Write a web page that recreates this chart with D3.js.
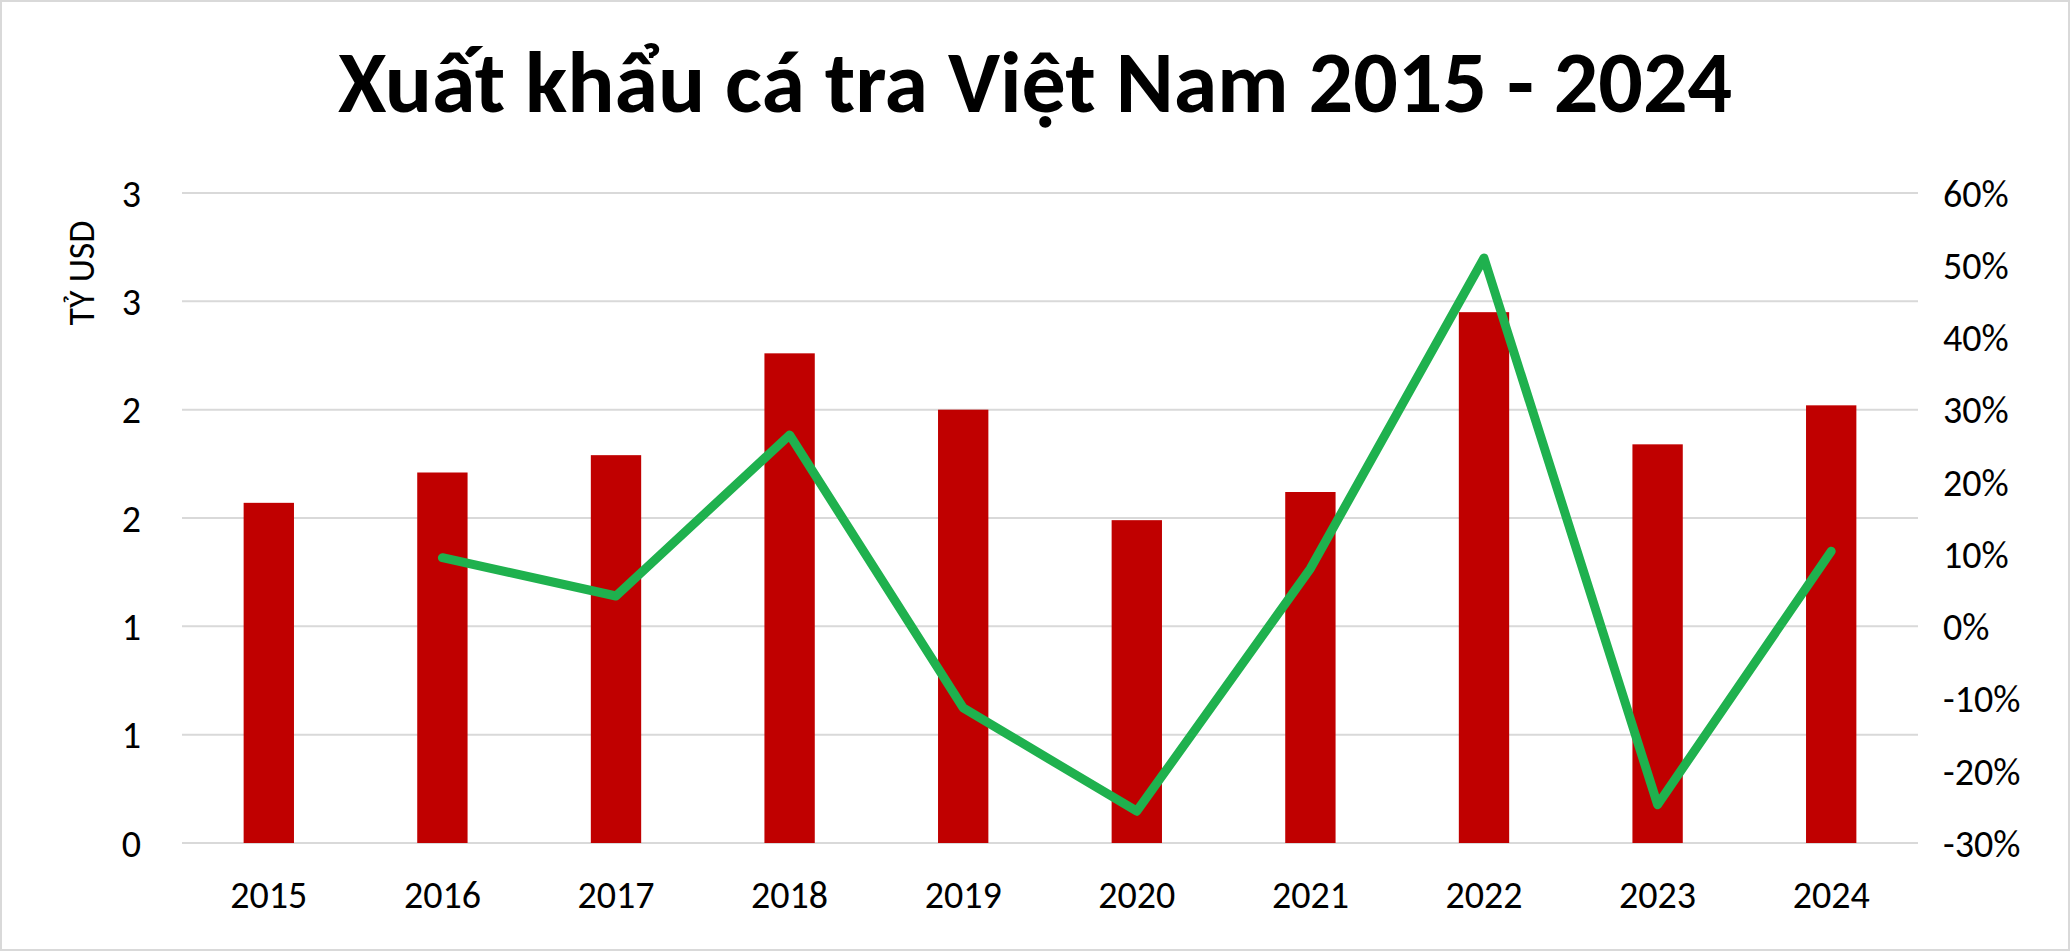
<!DOCTYPE html><html><head><meta charset="utf-8"><script src="https://cdn.jsdelivr.net/npm/d3@7"></script>
<style>body{margin:0;background:#fff}</style></head><body><svg id="c" width="2071" height="952"></svg>
<script>
const years=["2015","2016","2017","2018","2019","2020","2021","2022","2023","2024"];
const exportValue=[1.57,1.71,1.79,2.26,2.0,1.49,1.62,2.45,1.84,2.02];
const growth=[null,9.5,4.2,26.5,-11.3,-25.6,8.0,51.0,-24.7,10.4];
const leftTicks=[0,0.5,1,1.5,2,2.5,3];
const rightTicks=[-30,-20,-10,0,10,20,30,40,50,60];
const svg=d3.select("#c");
const font="Calibri, Carlito, 'Open Sans', sans-serif";
svg.append("rect").attr("x",1).attr("y",1).attr("width",2068).attr("height",949).attr("fill","#fff").attr("stroke","#d9d9d9").attr("stroke-width",2);
const L=182,R=1918,T=193,B=843;
const x=d3.scaleBand().domain(years).range([L,R]).paddingInner(0.71).paddingOuter(0.355);
const y=d3.scaleLinear().domain([0,3]).range([B,T]);
const y2=d3.scaleLinear().domain([-30,60]).range([B,T]);
svg.append("g").selectAll("line").data(leftTicks).join("line").attr("x1",L).attr("x2",R).attr("y1",d=>y(d)).attr("y2",d=>y(d)).attr("stroke","#d9d9d9").attr("stroke-width",2);
const la=svg.append("g").attr("transform",`translate(${L-38},0)`).call(d3.axisLeft(y).tickValues(leftTicks).tickFormat(d3.format(".0f")).tickSize(0));
la.select(".domain").remove();
la.selectAll("text").attr("font-family",font).attr("font-size",38).attr("fill","#000").attr("dy","0.35em");
const ra=svg.append("g").attr("transform",`translate(${R+22},0)`).call(d3.axisRight(y2).tickValues(rightTicks).tickFormat(d=>d+"%").tickSize(0));
ra.select(".domain").remove();
ra.selectAll("text").attr("font-family",font).attr("font-size",38).attr("fill","#000").attr("dy","0.35em");
const xa=svg.append("g").attr("transform",`translate(0,${B+28})`).call(d3.axisBottom(x).tickSize(0));
xa.select(".domain").remove();
xa.selectAll("text").attr("font-family",font).attr("font-size",38).attr("fill","#000").attr("dy","0.9em");
svg.append("g").selectAll("rect").data(years).join("rect").attr("x",d=>x(d)).attr("width",x.bandwidth()).attr("y",(d,i)=>y(exportValue[i])).attr("height",(d,i)=>B-y(exportValue[i])).attr("fill","#c00000");
const line=d3.line().defined(d=>d[1]!=null).x(d=>x(d[0])+x.bandwidth()/2).y(d=>y2(d[1]));
svg.append("path").datum(years.map((d,i)=>[d,growth[i]])).attr("d",line).attr("fill","none").attr("stroke","#1fb14e").attr("stroke-width",9).attr("stroke-linejoin","round").attr("stroke-linecap","round");
svg.append("text").attr("x",1035).attr("y",112).attr("text-anchor","middle").attr("font-family",font).attr("font-weight","bold").attr("font-size",88).text("Xuất khẩu cá tra Việt Nam 2015 - 2024");
svg.append("text").attr("transform","translate(94,273) rotate(-90)").attr("text-anchor","middle").attr("font-family",font).attr("font-size",36).text("TỶ USD");
</script></body></html>
